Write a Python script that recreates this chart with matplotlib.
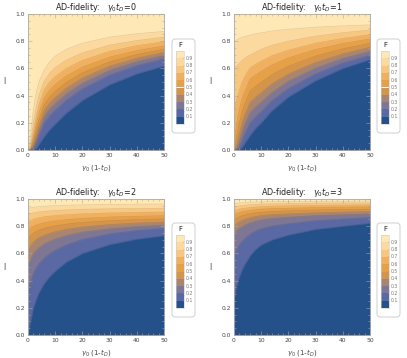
import matplotlib
matplotlib.use("Agg")
import matplotlib.pyplot as plt
from matplotlib.patches import FancyBboxPatch, Rectangle
from matplotlib.ticker import MultipleLocator, FormatStrFormatter

W, H = 407, 358

# contour levels of F and band colours (band k lies between level k and k+1)
levels = [0.1, 0.2, 0.3, 0.4, 0.5, 0.6, 0.7, 0.8, 0.9]
level_labels = ["0.1", "0.2", "0.3", "0.4", "0.5", "0.6", "0.7", "0.8", "0.9"]
band_colors = ["#24518a", "#5a69a3", "#7d7694", "#a88570", "#d4944c",
               "#e6a047", "#f0b060", "#f7c67f", "#fbd99f", "#fee9b6"]

# x positions (gamma0 (1 - tD)) where the contour curves are read
X = [0, 1, 2, 3, 4, 6, 8, 10, 14, 20, 30, 40, 50]

# I-values of each contour curve (rows: F = 0.1 ... 0.9) for gamma0 tD = 0
I_t0 = [
    [0, 0, 0, 0.01, 0.04, 0.10, 0.15, 0.19, 0.27, 0.365, 0.48, 0.56, 0.618],
    [0, 0, 0.01, 0.05, 0.10, 0.198, 0.25, 0.29, 0.364, 0.449, 0.55, 0.619, 0.669],
    [0, 0, 0.025, 0.08, 0.14, 0.247, 0.30, 0.34, 0.411, 0.491, 0.585, 0.649, 0.694],
    [0, 0, 0.045, 0.11, 0.18, 0.291, 0.345, 0.385, 0.453, 0.529, 0.617, 0.675, 0.717],
    [0, 0, 0.07, 0.15, 0.22, 0.335, 0.39, 0.43, 0.496, 0.567, 0.648, 0.702, 0.740],
    [0, 0.01, 0.10, 0.19, 0.27, 0.384, 0.44, 0.48, 0.543, 0.609, 0.683, 0.731, 0.765],
    [0, 0.03, 0.14, 0.24, 0.33, 0.443, 0.50, 0.54, 0.599, 0.659, 0.725, 0.767, 0.796],
    [0, 0.06, 0.20, 0.31, 0.40, 0.507, 0.565, 0.605, 0.660, 0.714, 0.771, 0.805, 0.829],
    [0, 0.12, 0.30, 0.42, 0.50, 0.59, 0.65, 0.69, 0.74, 0.785, 0.83, 0.855, 0.872],
]

# gamma0 tD = 1
I_t1 = [
    [0, 0, 0, 0.02, 0.05, 0.11, 0.16, 0.20, 0.29, 0.39, 0.51, 0.60, 0.665],
    [0, 0, 0.02, 0.07, 0.12, 0.199, 0.244, 0.281, 0.362, 0.452, 0.559, 0.639, 0.696],
    [0, 0.01, 0.06, 0.13, 0.19, 0.275, 0.317, 0.351, 0.424, 0.505, 0.602, 0.673, 0.725],
    [0, 0.04, 0.12, 0.20, 0.26, 0.352, 0.39, 0.421, 0.487, 0.558, 0.644, 0.707, 0.755],
    [0, 0.10, 0.20, 0.28, 0.34, 0.435, 0.468, 0.497, 0.554, 0.616, 0.690, 0.744, 0.784],
    [0.05, 0.20, 0.30, 0.38, 0.43, 0.523, 0.552, 0.578, 0.626, 0.677, 0.739, 0.783, 0.816],
    [0.30, 0.37, 0.44, 0.50, 0.54, 0.606, 0.63, 0.654, 0.693, 0.734, 0.785, 0.820, 0.848],
    [0.60, 0.62, 0.64, 0.66, 0.675, 0.70, 0.72, 0.74, 0.77, 0.80, 0.837, 0.862, 0.882],
    [0.80, 0.81, 0.82, 0.83, 0.835, 0.845, 0.855, 0.862, 0.875, 0.888, 0.903, 0.913, 0.920],
]

# gamma0 tD = 2
I_t2 = [
    [0, 0.10, 0.20, 0.26, 0.31, 0.38, 0.43, 0.47, 0.535, 0.60, 0.665, 0.705, 0.73],
    [0.33, 0.392, 0.454, 0.491, 0.523, 0.566, 0.597, 0.622, 0.662, 0.702, 0.743, 0.768, 0.783],
    [0.52, 0.559, 0.599, 0.622, 0.642, 0.670, 0.689, 0.705, 0.730, 0.756, 0.781, 0.797, 0.807],
    [0.63, 0.657, 0.685, 0.701, 0.715, 0.734, 0.748, 0.759, 0.777, 0.794, 0.812, 0.823, 0.830],
    [0.71, 0.730, 0.749, 0.761, 0.771, 0.785, 0.794, 0.802, 0.815, 0.828, 0.840, 0.848, 0.853],
    [0.77, 0.785, 0.799, 0.808, 0.815, 0.826, 0.833, 0.839, 0.848, 0.858, 0.867, 0.873, 0.877],
    [0.83, 0.840, 0.850, 0.856, 0.861, 0.869, 0.874, 0.878, 0.884, 0.891, 0.897, 0.901, 0.904],
    [0.885, 0.891, 0.898, 0.902, 0.905, 0.909, 0.913, 0.915, 0.919, 0.924, 0.928, 0.930, 0.932],
    [0.93, 0.935, 0.939, 0.942, 0.944, 0.947, 0.949, 0.951, 0.954, 0.957, 0.960, 0.962, 0.963],
]

# gamma0 tD = 3
I_t3 = [
    [0.255, 0.36, 0.43, 0.48, 0.52, 0.585, 0.63, 0.662, 0.70, 0.735, 0.777, 0.80, 0.822],
    [0.574, 0.627, 0.663, 0.689, 0.709, 0.742, 0.765, 0.781, 0.801, 0.818, 0.840, 0.852, 0.863],
    [0.735, 0.764, 0.783, 0.797, 0.807, 0.825, 0.837, 0.846, 0.857, 0.866, 0.878, 0.884, 0.890],
    [0.80, 0.82, 0.833, 0.843, 0.85, 0.863, 0.871, 0.878, 0.885, 0.891, 0.899, 0.904, 0.908],
    [0.845, 0.860, 0.870, 0.877, 0.882, 0.892, 0.898, 0.902, 0.908, 0.913, 0.919, 0.922, 0.925],
    [0.88, 0.891, 0.899, 0.905, 0.909, 0.916, 0.921, 0.925, 0.929, 0.932, 0.937, 0.940, 0.942],
    [0.91, 0.919, 0.925, 0.929, 0.932, 0.937, 0.941, 0.944, 0.947, 0.950, 0.953, 0.955, 0.957],
    [0.94, 0.946, 0.950, 0.952, 0.954, 0.958, 0.960, 0.962, 0.964, 0.966, 0.969, 0.970, 0.971],
    [0.965, 0.969, 0.971, 0.973, 0.974, 0.977, 0.978, 0.979, 0.981, 0.982, 0.983, 0.984, 0.985],
]

panel_values = ["0", "1", "2", "3"]
panel_data = [I_t0, I_t1, I_t2, I_t3]
x_ticks = [0, 10, 20, 30, 40, 50]
y_ticks = [0.0, 0.2, 0.4, 0.6, 0.8, 1.0]

# layout in pixels: (plot left, plot top, legend left, legend top)
layout = [(28, 14, 172, 39), (234, 14, 377, 39),
          (28, 199, 172, 223), (234, 199, 377, 223)]
PW, PH = 136, 136

fig = plt.figure(figsize=(W / 100, H / 100), dpi=100)
overlay = fig.add_axes([0, 0, 1, 1])
overlay.set_xlim(0, W)
overlay.set_ylim(H, 0)
overlay.axis("off")

frame_col = "#aaaaaa"
text_col = "#444444"

for (px, py, lx, ly), val, data in zip(layout, panel_values, panel_data):
    ax = fig.add_axes([px / W, 1 - (py + PH) / H, PW / W, PH / H])
    ax.set_xlim(0, 50)
    ax.set_ylim(0, 1)
    ax.set_facecolor(band_colors[9])
    for k in range(len(levels) - 1, -1, -1):
        ax.fill_between(X, 0, data[k], color=band_colors[k], lw=0, zorder=1)
    for k in range(len(levels)):
        ax.plot(X, data[k], color="black", alpha=0.13, lw=0.5, zorder=2)
    ax.set_xticks(x_ticks)
    ax.set_yticks(y_ticks)
    ax.yaxis.set_major_formatter(FormatStrFormatter("%.1f"))
    ax.xaxis.set_minor_locator(MultipleLocator(2))
    ax.yaxis.set_minor_locator(MultipleLocator(0.05))
    ax.tick_params(which="both", direction="in", top=True, right=True,
                   colors=frame_col, labelcolor=text_col, labelsize=4.3,
                   width=0.4, pad=2)
    ax.tick_params(which="major", length=3)
    ax.tick_params(which="minor", length=1.6)
    for s in ax.spines.values():
        s.set_color(frame_col)
        s.set_linewidth(0.6)
    ax.set_title(r"AD-fidelity:   $\gamma_0 t_D$=" + val, fontsize=5.8,
                 color="#222222", pad=3)
    ax.set_xlabel(r"$\gamma_0$ (1-$t_D$)", fontsize=5, color=text_col, labelpad=3)
    ax.set_ylabel("I", fontsize=5.5, color=text_col, rotation=0, labelpad=8,
                  va="center")

    # legend box
    bw, bh = 23, 94
    box = FancyBboxPatch((lx, ly), bw, bh, boxstyle="round,pad=0,rounding_size=3",
                         fc="white", ec="#c8c8c8", lw=0.6)
    overlay.add_patch(box)
    overlay.text(lx + 8, ly + 6, "F", fontsize=5, color="#222222",
                 ha="center", va="center")
    sx, sy, sw, sh = lx + 4, ly + 12, 8, 73
    n = len(band_colors)
    step = sh / n
    for i, c in enumerate(band_colors):
        y0 = sy + sh - (i + 1) * step
        overlay.add_patch(Rectangle((sx, y0), sw, step, fc=c, ec="none"))
    overlay.add_patch(Rectangle((sx, sy), sw, sh, fc="none", ec="#cccccc", lw=0.4))
    for i, lab in enumerate(level_labels):
        yb = sy + sh - (i + 1) * step
        overlay.plot([sx + sw - 1.5, sx + sw], [yb, yb], color="#999999", lw=0.3)
        overlay.text(sx + sw + 2, yb, lab, fontsize=3.3, color="#777777",
                     ha="left", va="center")

fig.savefig("out.png", dpi=100)
